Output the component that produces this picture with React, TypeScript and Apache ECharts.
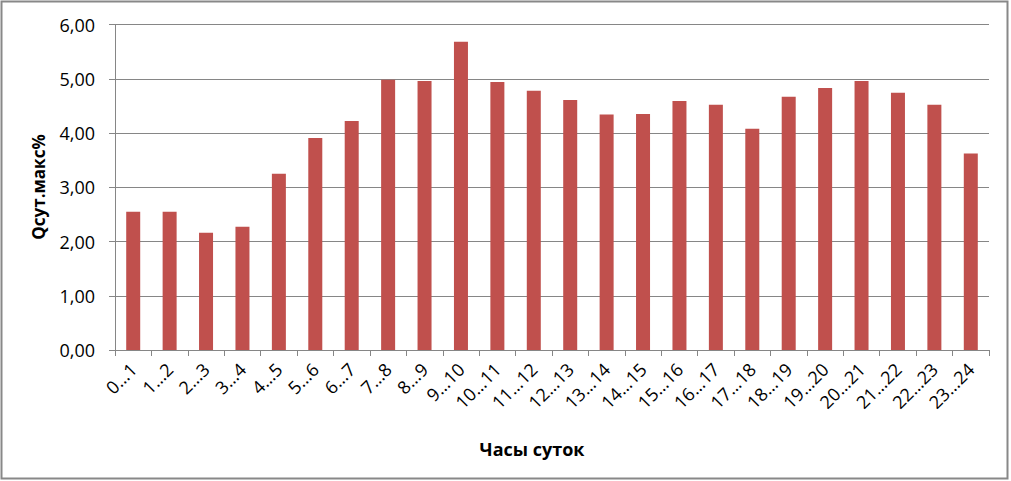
import React, { useEffect, useRef } from "react";
import * as echarts from "echarts";

const categories = [
  "0…1", "1…2", "2…3", "3…4", "4…5", "5…6", "6…7", "7…8", "8…9", "9…10",
  "10…11", "11…12", "12…13", "13…14", "14…15", "15…16", "16…17", "17…18",
  "18…19", "19…20", "20…21", "21…22", "22…23", "23…24",
];
const values = [
  2.55, 2.55, 2.16, 2.27, 3.25, 3.91, 4.22, 4.98, 4.96, 5.68,
  4.94, 4.78, 4.61, 4.34, 4.35, 4.59, 4.52, 4.08, 4.67, 4.83,
  4.96, 4.74, 4.52, 3.62,
];
const yTitle = "Qсут.макс%";
const xTitle = "Часы суток";

export default function App() {
  const ref = useRef<HTMLDivElement>(null);
  useEffect(() => {
    if (!ref.current) return;
    const chart = echarts.init(ref.current, null, { renderer: "svg" });
    const font = "'Open Sans', 'Noto Sans', sans-serif";
    chart.setOption({
      animation: false,
      backgroundColor: "#ffffff",
      textStyle: { fontFamily: font },
      grid: { left: 115, right: 22, top: 24.5, bottom: 131, containLabel: false },
      xAxis: {
        type: "category",
        data: categories,
        axisLine: { lineStyle: { color: "#868686", width: 1 } },
        axisTick: { show: true, length: 6, alignWithLabel: false, lineStyle: { color: "#868686" } },
        axisLabel: {
          rotate: 45,
          color: "#000",
          fontSize: 18,
          margin: 16,
          padding: [12, 0, 0, 0],
          interval: 0,
          fontFamily: font,
        },
      },
      yAxis: {
        type: "value",
        min: 0,
        max: 6,
        interval: 1,
        axisLine: { show: true, lineStyle: { color: "#868686", width: 1 } },
        axisTick: { show: true, length: 6, lineStyle: { color: "#868686" } },
        splitLine: { show: true, lineStyle: { color: "#868686", width: 1 } },
        axisLabel: {
          color: "#000",
          fontSize: 18,
          margin: 20,
          fontFamily: font,
          formatter: (v: number) => v.toFixed(2).replace(".", ","),
        },
      },
      series: [
        {
          type: "bar",
          data: values,
          barWidth: 14,
          itemStyle: { color: "#C0504D" },
        },
      ],
      graphic: [
        {
          type: "rect",
          shape: { x: 1.5, y: 1.5, width: 1006, height: 477 },
          style: { fill: "none", stroke: "#888888", lineWidth: 2 },
          silent: true,
          z: 100,
        },
        {
          type: "text",
          x: 532,
          y: 449,
          style: {
            text: xTitle,
            fontFamily: font,
            fontSize: 18,
            fontWeight: "bold",
            fill: "#000",
            align: "center",
            verticalAlign: "middle",
          },
        },
        {
          type: "text",
          x: 38,
          y: 187,
          rotation: Math.PI / 2,
          style: {
            text: yTitle,
            fontFamily: font,
            fontSize: 17,
            fontWeight: "bold",
            fill: "#000",
            align: "center",
            verticalAlign: "middle",
          },
        },
      ],
    });
    return () => chart.dispose();
  }, []);
  return (
    <div
      ref={ref}
      style={{ position: "fixed", left: 0, top: 0, width: 1011, height: 481 }}
    />
  );
}
